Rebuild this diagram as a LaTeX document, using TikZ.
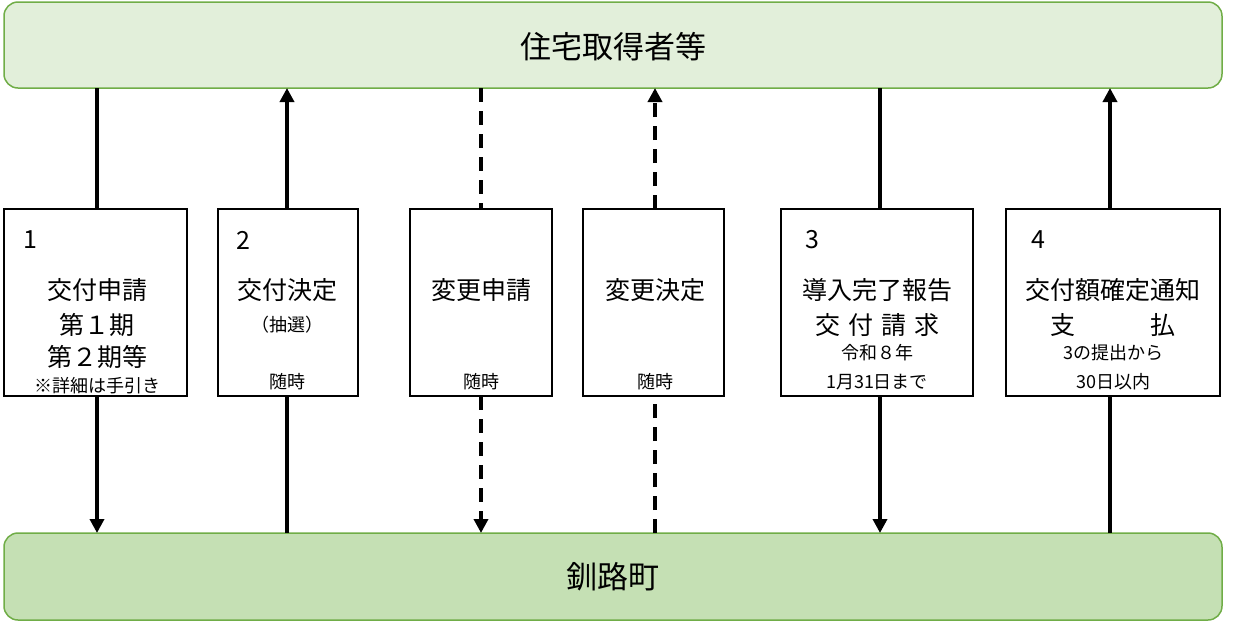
\documentclass[tikz,border=0pt]{standalone}
\usepackage{fontspec}
\setmainfont{Noto Sans CJK JP}
\usetikzlibrary{arrows.meta}
\definecolor{gborder}{HTML}{70AD47}
\definecolor{gtop}{HTML}{E2EFDA}
\definecolor{gbot}{HTML}{C5E0B4}
\tikzset{
  band/.style={draw=gborder,line width=1.5pt,rounded corners=14pt},
  stepbox/.style={draw=black,line width=1.2pt,fill=white},
  conn/.style={line width=4pt},
  dconn/.style={line width=4pt,dash pattern=on 14pt off 9pt},
  tip/.style={-{Triangle[length=14pt,width=14pt]}},
  big/.style={font=\fontsize{25}{28}\selectfont,inner sep=0pt},
  small/.style={font=\fontsize{18}{20}\selectfont,inner sep=0pt},
}
\begin{document}
\begin{tikzpicture}[x=1pt,y=-1pt]
\useasboundingbox (0,0) rectangle (1234,622);
\draw[band,fill=gtop] (4,2) rectangle (1222,88);
\draw[band,fill=gbot] (4,533) rectangle (1222,620);
\node[font=\fontsize{31}{34}\selectfont] (top) at (613,47) {住宅取得者等};
\node[font=\fontsize{31}{34}\selectfont] (bot) at (613,577) {釧路町};
% coordinates on bands
\foreach \n/\x in {a/97,b/287,c/481,d/655,e/880,f/1110}{
  \coordinate (t\n) at (\x,88);
  \coordinate (b\n) at (\x,533);
}
% boxes
\foreach \n/\l/\r in {a/4/187,b/218/358,c/410/552,d/583/724,e/781/973,f/1006/1220}{
  \draw[stepbox] (\l,209) rectangle (\r,396);
  \coordinate (u\n) at ({(\l+\r)/2},209);
}
\coordinate (ua) at (97,209); \coordinate (la) at (97,396);
\coordinate (ub) at (287,209); \coordinate (lb) at (287,396);
\coordinate (uc) at (481,209); \coordinate (lc) at (481,396);
\coordinate (ud) at (655,209); \coordinate (ld) at (655,396);
\coordinate (ue) at (880,209); \coordinate (le) at (880,396);
\coordinate (uf) at (1110,209); \coordinate (lf) at (1110,396);
% connectors
\draw[conn] (ta) -- (ua); \draw[conn,tip] (la) -- (ba);
\draw[conn,tip] (ub) -- (tb); \draw[conn] (bb) -- (lb);
\draw[dconn] (tc) -- (uc); \draw[dconn,tip] (lc) -- (bc);
\draw[dconn,tip] (ud) -- (td); \draw[dconn] (bd) -- (ld);
\draw[conn] (te) -- (ue); \draw[conn,tip] (le) -- (be);
\draw[conn,tip] (uf) -- (tf); \draw[conn] (bf) -- (lf);
% texts box 1
\node[big] (n1) at (30,240) {1};
\node[big] (a1) at (97,290) {交付申請};
\node[big] (a2) at (97,325) {第１期};
\node[big] (a3) at (97,357) {第２期等};
\node[small] (a4) at (97,386) {※詳細は手引き};
% box 2
\node[big] (n2) at (243,240) {2};
\node[big] (b1) at (287,290) {交付決定};
\node[small] (b2) at (287,325) {（抽選）};
\node[small] (b3) at (287,382) {随時};
% box 3
\node[big] (c1) at (481,290) {変更申請};
\node[small] (c3) at (481,382) {随時};
% box 4
\node[big] (d1) at (655,290) {変更決定};
\node[small] (d3) at (655,382) {随時};
% box 5
\node[big] (n3) at (812,240) {3};
\node[big] (e1) at (877,290) {導入完了報告};
\node[big] (e2) at (877,325) {交\hspace{8pt}付\hspace{8pt}請\hspace{8pt}求};
\node[small] (e3) at (877,353) {令和８年};
\node[small] (e4) at (877,382) {1月31日まで};
% box 6
\node[big] (n4) at (1038,240) {4};
\node[big] (f1) at (1113,290) {交付額確定通知};
\node[big] (f2) at (1113,325) {支\hspace{75pt}払};
\node[small] (f3) at (1113,353) {3の提出から};
\node[small] (f4) at (1113,382) {30日以内};
\end{tikzpicture}
\end{document}
